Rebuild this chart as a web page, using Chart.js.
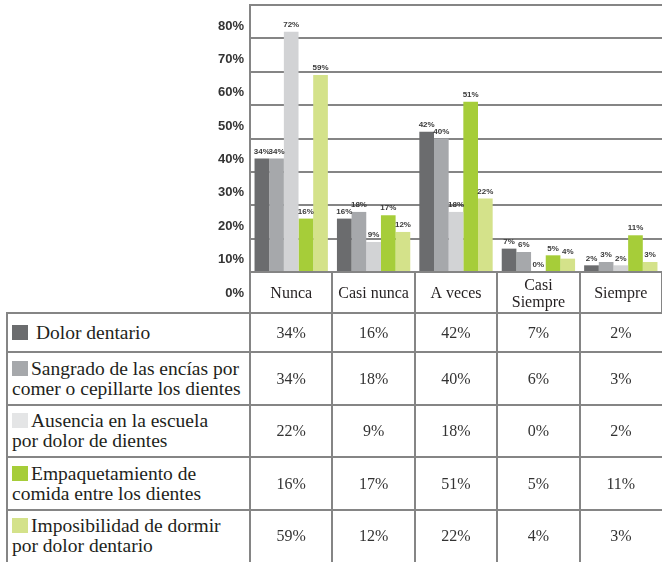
<!DOCTYPE html>
<html>
<head>
<meta charset="utf-8">
<script src="https://cdn.jsdelivr.net/npm/chart.js@4.4.1/dist/chart.umd.min.js"></script>
<style>
html,body{margin:0;padding:0;background:#fff;}
body{width:662px;height:562px;overflow:hidden;position:relative;}
#wrap{position:absolute;left:0;top:0;width:662px;height:313px;}
.ln{position:absolute;background:#858585;}
.cell{position:absolute;display:flex;align-items:center;font-family:"Liberation Serif","Times New Roman",serif;color:#231f20;box-sizing:border-box;}
.val{justify-content:center;font-size:16px;color:#333;}
.lab{justify-content:flex-start;padding-left:4px;font-size:19.5px;line-height:20px;}
.sq{display:inline-block;width:16px;height:15px;margin-right:3px;vertical-align:-1px;}
</style>
</head>
<body>
<div id="wrap"><canvas id="c" width="662" height="313"></canvas></div>
<div id="tbl"></div>
<script>
// ---- data ----
const categories = ["Nunca", "Casi nunca", "A veces", ["Casi", "Siempre"], "Siempre"];
const seriesNames = [
  ["Dolor dentario"],
  ["Sangrado de las encías por", "comer o cepillarte los dientes"],
  ["Ausencia en la escuela", "por dolor de dientes"],
  ["Empaquetamiento de", "comida entre los dientes"],
  ["Imposibilidad de dormir", "por dolor dentario"]
];
const dolor          = [34, 16, 42, 7, 2];
const sangrado       = [34, 18, 40, 6, 3];
const ausenciaBarras = [72, 9, 18, 0, 2];
const ausenciaTabla  = [22, 9, 18, 0, 2];
const empaquetamiento= [16, 17, 51, 5, 11];
const imposibilidad  = [59, 12, 22, 4, 3];
const yTicks = [0, 10, 20, 30, 40, 50, 60, 70, 80];

const colors = ["#6b6c6e", "#a6a8ab", "#d2d3d5", "#a6cd39", "#d4e28a"];
const legendColors = ["#6b6c6e", "#a6a8ab", "#e4e5e6", "#a6cd39", "#d4e28a"];
const barSeries = [dolor, sangrado, ausenciaBarras, empaquetamiento, imposibilidad];
const tableSeries = [dolor, sangrado, ausenciaTabla, empaquetamiento, imposibilidad];

const gridColor = "#858585";

const valueLabels = {
  id: "valueLabels",
  afterDatasetsDraw(chart) {
    const ctx = chart.ctx;
    ctx.save();
    ctx.font = 'bold 8px "Liberation Sans", Arial, sans-serif';
    ctx.fillStyle = "#3a3a3a";
    ctx.textAlign = "center";
    ctx.textBaseline = "bottom";
    chart.data.datasets.forEach((ds, i) => {
      chart.getDatasetMeta(i).data.forEach((bar, j) => {
        ctx.fillText(ds.data[j] + "%", bar.x, bar.y - 3);
      });
    });
    ctx.restore();
  }
};

const chart = new Chart(document.getElementById("c"), {
  type: "bar",
  data: {
    labels: categories,
    datasets: barSeries.map((d, i) => ({
      label: seriesNames[i].join(" "),
      data: d,
      backgroundColor: colors[i],
      borderWidth: 0,
      barPercentage: 1,
      categoryPercentage: 0.89
    }))
  },
  options: {
    responsive: false,
    animation: false,
    devicePixelRatio: 1,
    layout: { padding: { top: 5, left: 0, right: 0, bottom: 0 } },
    plugins: { legend: { display: false }, tooltip: { enabled: false } },
    scales: {
      x: {
        offset: true,
        grid: { display: true, drawOnChartArea: false, drawTicks: true, tickLength: 41, color: gridColor, lineWidth: 2, offset: true },
        border: { display: true, color: gridColor, width: 2 },
        ticks: {
          autoSkip: false, maxRotation: 0, minRotation: 0,
          crossAlign: "center",
          padding: -27.5,
          color: "#231f20",
          font: { family: '"Liberation Serif", "Times New Roman", serif', size: 16, lineHeight: 1.06 }
        },
        afterFit(s) { s.height = 41; s.paddingLeft = 0; s.paddingRight = 0; }
      },
      y: {
        min: 0, max: 80,
        afterBuildTicks(s) { s.ticks = yTicks.map(v => ({ value: v })); },
        grid: { color: gridColor, lineWidth: 2, drawTicks: false },
        border: { display: true, color: gridColor, width: 2 },
        ticks: {
          callback: v => v + "%",
          labelOffset: 21,
          padding: 6,
          color: "#333",
          font: { family: '"Liberation Sans", Arial, sans-serif', size: 13, weight: "bold" }
        },
        afterFit(s) { s.width = 250; s.paddingTop = 0; s.paddingBottom = 0; }
      }
    }
  },
  plugins: [valueLabels]
});

// ---- table below the chart ----
const area = chart.chartArea;
const catW = area.width / categories.length;
const colX = [7, area.left];
for (let i = 1; i <= categories.length; i++) colX.push(area.left + i * catW);
const rowY = [313, 352, 405, 457, 510, 562];
const tbl = document.getElementById("tbl");
function line(x, y, w, h) {
  const d = document.createElement("div");
  d.className = "ln";
  d.style.left = x + "px"; d.style.top = y + "px";
  d.style.width = w + "px"; d.style.height = h + "px";
  tbl.appendChild(d);
}
for (let r = 0; r < rowY.length - 1; r++) line(colX[0] - 1, rowY[r] - 1, 662 - colX[0] + 1, 2);
for (let c = 0; c < colX.length - 1; c++) line(colX[c] - 1, rowY[0] - 1, 2, 562 - rowY[0] + 1);

for (let r = 0; r < seriesNames.length; r++) {
  const top = rowY[r] + 1, h = rowY[r + 1] - rowY[r] - 2;
  const lab = document.createElement("div");
  lab.className = "cell lab";
  lab.style.left = (colX[0] + 1) + "px"; lab.style.top = top + "px";
  lab.style.width = (colX[1] - colX[0] - 2) + "px"; lab.style.height = h + "px";
  const inner = document.createElement("div");
  inner.style.whiteSpace = "nowrap";
  const sq = document.createElement("span");
  sq.className = "sq"; sq.style.background = legendColors[r];
  inner.appendChild(sq);
  seriesNames[r].forEach((t, k) => {
    if (k > 0) inner.appendChild(document.createElement("br"));
    inner.appendChild(document.createTextNode((k === 0 && r === 0 ? " " : "") + t));
  });
  lab.appendChild(inner);
  tbl.appendChild(lab);
  for (let c = 0; c < categories.length; c++) {
    const v = document.createElement("div");
    v.className = "cell val";
    v.style.left = (colX[c + 1] + 1) + "px"; v.style.top = top + "px";
    v.style.width = (colX[c + 2] - colX[c + 1] - 2) + "px"; v.style.height = h + "px";
    v.textContent = tableSeries[r][c] + "%";
    tbl.appendChild(v);
  }
}
</script>
</body>
</html>
